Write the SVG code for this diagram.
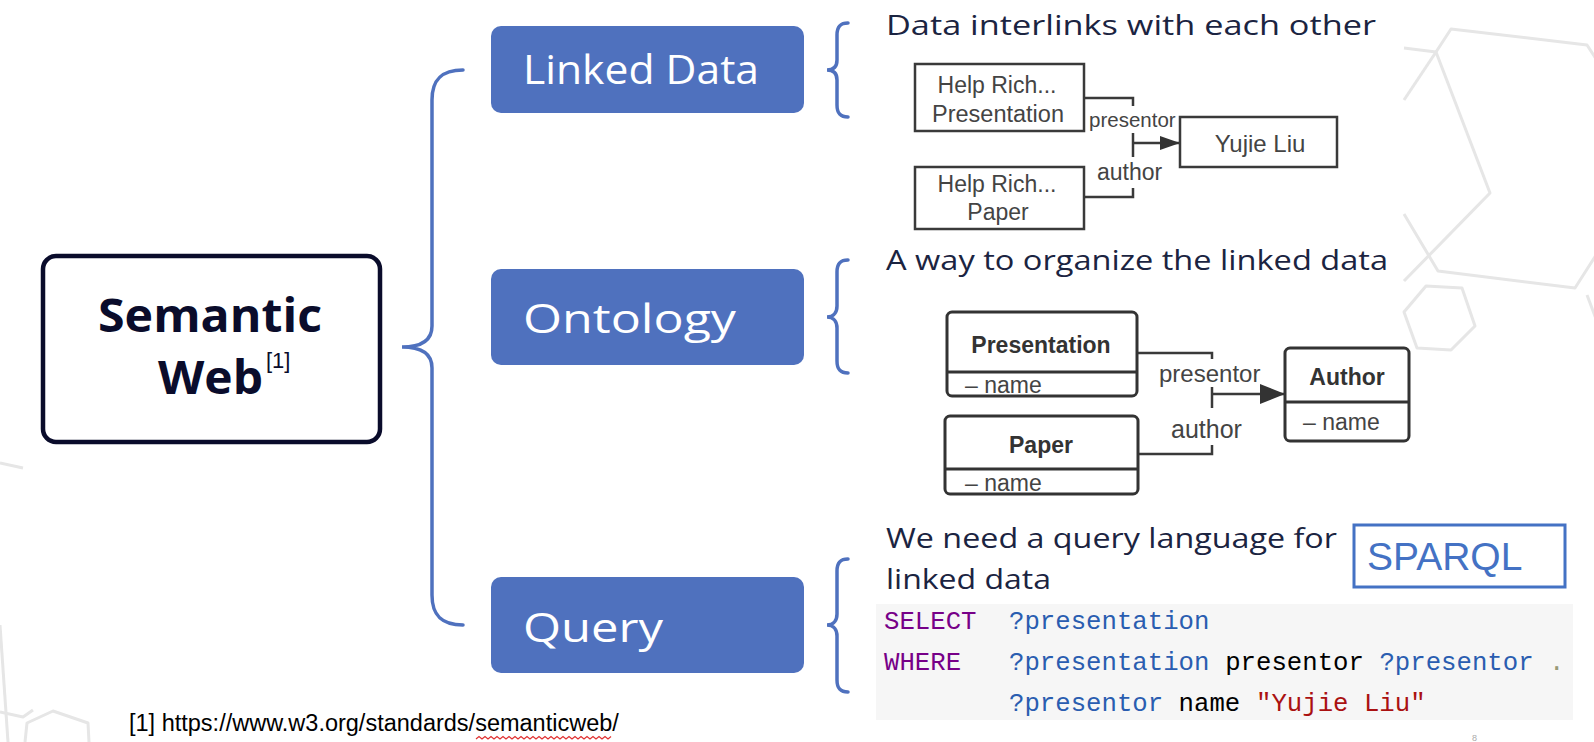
<svg xmlns="http://www.w3.org/2000/svg" width="1594" height="742" viewBox="0 0 1594 742">
<defs>
<style>
.bg{fill:none;stroke:#e6e6e6;stroke-width:3;stroke-linejoin:round}
.brace{fill:none;stroke:#4F71BE;stroke-width:3.5;stroke-linecap:round}
.bluebox{fill:#4F71BE}
.btxt{font-family:"Open Sans","Noto Sans",sans-serif;font-size:41px;fill:#ffffff}
.head{font-family:"Open Sans","Noto Sans",sans-serif;font-size:27px;fill:#1b2441}
.lbox{fill:#ffffff;stroke:#3a3a3a;stroke-width:2.5}
.cls{fill:#ffffff;stroke:#333333;stroke-width:3}
.ltxt{font-family:"Liberation Sans",Arial,sans-serif;fill:#444444}
.ctitle{font-family:"Liberation Sans",Arial,sans-serif;font-weight:bold;fill:#333333;font-size:23px}
.conn{fill:none;stroke:#3a3a3a;stroke-width:2.5}
.code{font-family:"Liberation Mono","Courier New",monospace;font-size:25.7px}
.kw{fill:#770088}.var{fill:#2a5db0}.str{fill:#aa1111}.plain{fill:#000000}
</style>
<marker id="arrLD" markerUnits="userSpaceOnUse" markerWidth="22" markerHeight="16" refX="20" refY="7" orient="auto"><path d="M0,0 L20,7 L0,14 z" fill="#333333"/></marker>
<marker id="arrON" markerUnits="userSpaceOnUse" markerWidth="27" markerHeight="22" refX="25" refY="10" orient="auto"><path d="M0,0 L25,10 L0,20 z" fill="#333333"/></marker>
</defs>
<rect x="0" y="0" width="1594" height="742" fill="#ffffff"/>
<g id="background">
<polyline class="bg" points="1404,48 1436,52 1451,29 1587,45 1598,62"/>
<polyline class="bg" points="1404,100 1436,52 1490,193 1404,281"/>
<polyline class="bg" points="1404,214 1438,271 1575,288 1598,252"/>
<polygon class="bg" points="1426,286 1462,288 1475,326 1451,350 1417,348 1404,312"/>
<polyline class="bg" points="1587,295 1598,324"/>
<polyline class="bg" points="0,463 23,468"/>
<polyline class="bg" points="0,625 8,742"/>
<polyline class="bg" points="0,712 23,717 33,710"/>
<polyline class="bg" points="25,742 27,723 53,711 88,723 89,742"/>
</g>
<g id="connectors">
<path class="brace" d="M463,70 C441,70 432,80 432,100 L432,326 C432,340 422,347 402,347 C422,347 432,354 432,368 L432,595 C432,615 441,625 463,625"/>
<path class="brace" d="M848,23 C840,23 837,27 837,35 L837,60 C837,66 834,70 827,70 C834,70 837,74 837,80 L837,105 C837,113 840,117 848,117"/>
<path class="brace" d="M848,260 C840,260 837,264 837,272 L837,306 C837,312 834,317 827,317 C834,317 837,322 837,328 L837,361 C837,369 840,373 848,373"/>
<path class="brace" d="M848,559 C840,559 837,563 837,571 L837,614 C837,620 834,625 827,625 C834,625 837,630 837,636 L837,680 C837,688 840,692 848,692"/>
<g id="ld-edges">
<polyline class="conn" points="1084,98 1133,98 1133,106"/>
<polyline class="conn" points="1084,197 1133,197 1133,188"/>
<line class="conn" x1="1133" y1="133" x2="1133" y2="157"/>
<line class="conn" x1="1133" y1="143" x2="1180" y2="143" marker-end="url(#arrLD)"/>
<text class="ltxt" x="1089" y="127" font-size="20.5">presentor</text>
<text class="ltxt" x="1097" y="180" font-size="23">author</text>
</g>
<g id="ont-edges">
<polyline class="conn" points="1137,353 1212,353 1212,359"/>
<polyline class="conn" points="1138,454 1212,454 1212,445"/>
<line class="conn" x1="1212" y1="387" x2="1212" y2="408"/>
<line class="conn" x1="1212" y1="394" x2="1285" y2="394" marker-end="url(#arrON)"/>
<text class="ltxt" x="1159" y="382" font-size="24">presentor</text>
<text class="ltxt" x="1171" y="438" font-size="25">author</text>
</g>
</g>
<g id="node-semantic-web">
<rect x="43" y="256" width="337" height="186" rx="13" fill="#ffffff" stroke="#0a0c2b" stroke-width="4.5"/>
<text x="98" y="332" font-family="'Open Sans','Noto Sans',sans-serif" font-weight="bold" font-size="47" fill="#0a0c2b" textLength="224" lengthAdjust="spacingAndGlyphs">Semantic</text>
<text x="158" y="394" font-family="'Open Sans','Noto Sans',sans-serif" font-weight="bold" font-size="47" fill="#0a0c2b" textLength="105" lengthAdjust="spacingAndGlyphs">Web</text>
<text x="266" y="368" font-family="'Liberation Sans',Arial,sans-serif" font-size="22" fill="#0a0c2b">[1]</text>
</g>
<g id="node-linked-data">
<rect class="bluebox" x="491" y="26" width="313" height="87" rx="10"/>
<text class="btxt" x="523" y="84" textLength="236" lengthAdjust="spacingAndGlyphs">Linked Data</text>
</g>
<g id="node-ontology">
<rect class="bluebox" x="491" y="269" width="313" height="96" rx="10"/>
<text class="btxt" x="523" y="333" textLength="213" lengthAdjust="spacingAndGlyphs">Ontology</text>
</g>
<g id="node-query">
<rect class="bluebox" x="491" y="577" width="313" height="96" rx="10"/>
<text class="btxt" x="523" y="642" textLength="140" lengthAdjust="spacingAndGlyphs">Query</text>
</g>
<g id="desc-linked-data">
<text class="head" x="886" y="35" textLength="490" lengthAdjust="spacingAndGlyphs">Data interlinks with each other</text>
</g>
<g id="desc-ontology">
<text class="head" x="886" y="270" textLength="502" lengthAdjust="spacingAndGlyphs">A way to organize the linked data</text>
</g>
<g id="desc-query">
<text class="head" x="886" y="548" textLength="451" lengthAdjust="spacingAndGlyphs">We need a query language for</text>
<text class="head" x="886" y="589" textLength="165" lengthAdjust="spacingAndGlyphs">linked data</text>
</g>
<g id="ld-presentation">
<rect class="lbox" x="915" y="64" width="169" height="67"/>
<text class="ltxt" x="997" y="93" font-size="23" text-anchor="middle">Help Rich...</text>
<text class="ltxt" x="998" y="122" font-size="23.5" text-anchor="middle">Presentation</text>
</g>
<g id="ld-paper">
<rect class="lbox" x="915" y="167" width="169" height="62"/>
<text class="ltxt" x="997" y="192" font-size="23" text-anchor="middle">Help Rich...</text>
<text class="ltxt" x="998" y="220" font-size="23" text-anchor="middle">Paper</text>
</g>
<g id="ld-yujie">
<rect class="lbox" x="1180" y="117" width="157" height="50"/>
<text class="ltxt" x="1260" y="152" font-size="24" text-anchor="middle">Yujie Liu</text>
</g>
<g id="ont-presentation">
<rect class="cls" x="947" y="312" width="190" height="84" rx="5"/>
<line x1="947" y1="372" x2="1137" y2="372" stroke="#333" stroke-width="3"/>
<text class="ctitle" x="1041" y="353" text-anchor="middle">Presentation</text>
<text class="ltxt" x="965" y="393" font-size="23">– name</text>
</g>
<g id="ont-paper">
<rect class="cls" x="945" y="416" width="193" height="78" rx="5"/>
<line x1="945" y1="469" x2="1138" y2="469" stroke="#333" stroke-width="3"/>
<text class="ctitle" x="1041" y="453" text-anchor="middle">Paper</text>
<text class="ltxt" x="965" y="491" font-size="23">– name</text>
</g>
<g id="ont-author">
<rect class="cls" x="1285" y="348" width="124" height="93" rx="5"/>
<line x1="1285" y1="402" x2="1409" y2="402" stroke="#333" stroke-width="3"/>
<text class="ctitle" x="1347" y="385" text-anchor="middle">Author</text>
<text class="ltxt" x="1303" y="430" font-size="23">– name</text>
</g>
<g id="sparql">
<rect x="1354" y="525" width="211" height="62" fill="#ffffff" stroke="#4472C4" stroke-width="3"/>
<text x="1367" y="570" font-family="'Liberation Sans',Arial,sans-serif" font-size="39" fill="#4472C4">SPARQL</text>
</g>
<g id="code">
<rect x="876" y="604" width="697" height="116" fill="#f6f6f6"/>
<text class="code" y="629"><tspan class="kw" x="884">SELECT</tspan><tspan class="var" x="1009">?presentation</tspan></text>
<text class="code" y="670"><tspan class="kw" x="884">WHERE</tspan><tspan class="var" x="1009">?presentation</tspan><tspan class="plain" x="1225.2">presentor</tspan><tspan class="var" x="1379.4">?presentor</tspan><tspan x="1549" fill="#999977">.</tspan></text>
<text class="code" y="711"><tspan class="var" x="1009">?presentor</tspan><tspan class="plain" x="1178.6">name</tspan><tspan class="str" x="1256">"Yujie Liu"</tspan></text>
</g>
<g id="footnote">
<text x="129" y="731" font-family="'Liberation Sans',Arial,sans-serif" font-size="23.5" fill="#000000">[1] https://www.w3.org/standards/semanticweb/</text>
<path d="M476,739 l3,-2.5 l3,2.5 l3,-2.5 l3,2.5 l3,-2.5 l3,2.5 l3,-2.5 l3,2.5 l3,-2.5 l3,2.5 l3,-2.5 l3,2.5 l3,-2.5 l3,2.5 l3,-2.5 l3,2.5 l3,-2.5 l3,2.5 l3,-2.5 l3,2.5 l3,-2.5 l3,2.5 l3,-2.5 l3,2.5 l3,-2.5 l3,2.5 l3,-2.5 l3,2.5 l3,-2.5 l3,2.5 l3,-2.5 l3,2.5 l3,-2.5 l3,2.5 l3,-2.5 l3,2.5 l3,-2.5 l3,2.5 l3,-2.5 l3,2.5 l3,-2.5 l3,2.5 l3,-2.5 l3,2.5 l3,-2.5" fill="none" stroke="#e03030" stroke-width="1.2"/>
</g>
<text x="1472" y="741" font-family="'Liberation Sans',Arial,sans-serif" font-size="9" fill="#aaaaaa">8</text>
</svg>
